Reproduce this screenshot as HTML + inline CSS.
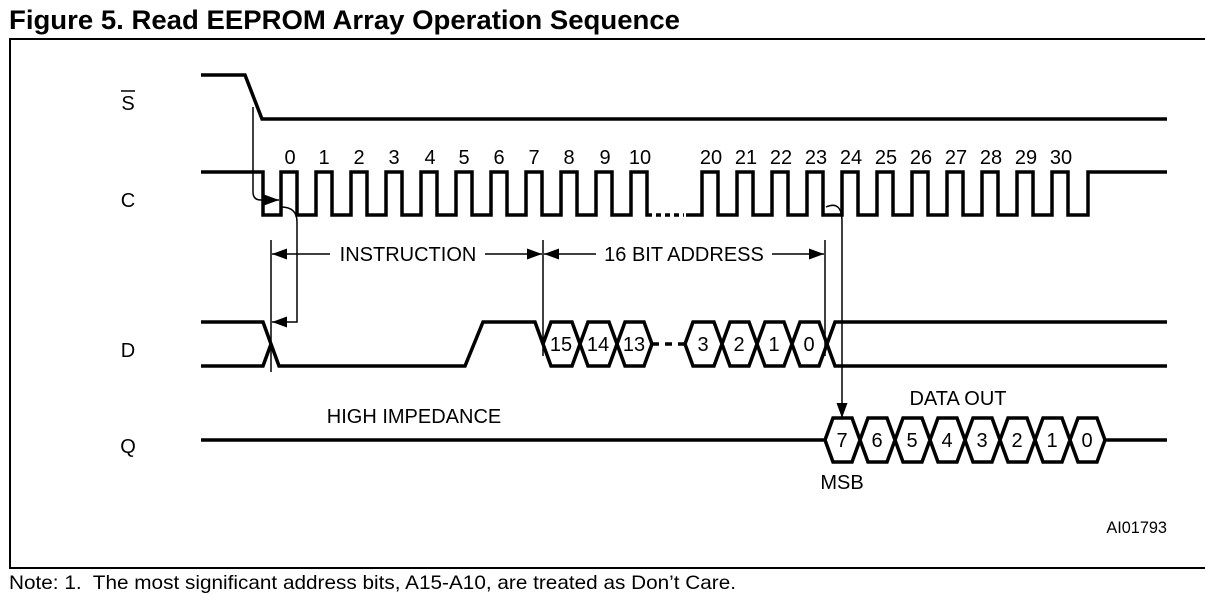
<!DOCTYPE html>
<html><head><meta charset="utf-8"><style>
html,body{margin:0;padding:0;background:#fff;}
svg{display:block;}
text{font-family:"Liberation Sans",sans-serif;fill:#000;white-space:pre;}
</style></head><body>
<svg width="1205" height="596" viewBox="0 0 1205 596" xmlns="http://www.w3.org/2000/svg">
<defs>
<marker id="ah" markerWidth="15" markerHeight="11" refX="15" refY="5.5" orient="auto" markerUnits="userSpaceOnUse"><path d="M0,0 L15,5.5 L0,11 z" fill="#000"/></marker>
</defs>
<text x="9" y="29" font-size="27" font-weight="bold" textLength="671" lengthAdjust="spacingAndGlyphs">Figure 5. Read EEPROM Array Operation Sequence</text>
<path d="M1205,39 H10 V568 H1205" fill="none" stroke="#000" stroke-width="2"/>
<text x="9" y="589" font-size="19.5" textLength="727" lengthAdjust="spacingAndGlyphs">Note: 1.  The most significant address bits, A15-A10, are treated as Don’t Care.</text>

<g font-size="20" text-anchor="middle">
<text x="128" y="110">S</text>
<line x1="121" y1="91" x2="135" y2="91" stroke="#000" stroke-width="1.5"/>
<text x="128" y="207">C</text>
<text x="128" y="357">D</text>
<text x="128" y="453">Q</text>
</g>

<g fill="none" stroke="#000" stroke-width="3.5" stroke-linejoin="miter">
<path d="M201,75 H245 L262,119 H1167"/>
<path d="M201,172 H263 V215 H281 V172 H297 V215 H316 V172 H332 V215 H351 V172 H367 V215 H386 V172 H402 V215 H421 V172 H437 V215 H456 V172 H472 V215 H491 V172 H507 V215 H526 V172 H542 V215 H561 V172 H577 V215 H596 V172 H612 V215 H631 V172 H647 V215 H652"/>
<path d="M656,215 H684" stroke-dasharray="5,4"/>
<path d="M686,215 H702 V172 H718 V215 H737 V172 H753 V215 H772 V172 H788 V215 H807 V172 H823 V215 H842 V172 H858 V215 H877 V172 H893 V215 H912 V172 H928 V215 H947 V172 H963 V215 H982 V172 H998 V215 H1017 V172 H1033 V215 H1052 V172 H1068 V215 H1088 V172 H1167"/>
<path d="M201,322 H263 L279,366 H465 L483,322 H535 L543,344"/>
<path d="M201,366 H263 L271,344"/>
<path d="M543,344 L551,322 H572 L580,344 L588,322 H609 L617,344 L625,322 H644 L652,344 L644,366 H625 L617,344 L609,366 H588 L580,344 L572,366 H551 L543,344"/>
<path d="M652,344 H685" stroke-dasharray="7,6"/>
<path d="M685,344 L693,322 H714 L722,344 L730,322 H749 L757,344 L765,322 H784 L792,344 L800,322 H819 L827,344 L835,322 H1167 M827,344 L835,366 H1167 M827,344 L819,366 H800 L792,344 L784,366 H765 L757,344 L749,366 H730 L722,344 L714,366 H693 L685,344"/>
<path d="M201,440 H825 L833,418 H852 L860,440 L868,418 H887 L895,440 L903,418 H922 L930,440 L938,418 H957 L965,440 L973,418 H992 L1000,440 L1008,418 H1027 L1035,440 L1043,418 H1062 L1070,440 L1078,418 H1097 L1105,440 H1167 M825,440 L833,462 H852 L860,440 L868,462 H887 L895,440 L903,462 H922 L930,440 L938,462 H957 L965,440 L973,462 H992 L1000,440 L1008,462 H1027 L1035,440 L1043,462 H1062 L1070,440 L1078,462 H1097 L1105,440"/>
</g>

<g fill="none" stroke="#000" stroke-width="1.5">
<path d="M253,107 V192 Q253,200 261,200 H279" marker-end="url(#ah)"/>
<path d="M281,207 Q297,207 297,222 V322 H272" marker-end="url(#ah)"/>
<line x1="271" y1="240" x2="271" y2="372"/>
<line x1="543" y1="240" x2="543" y2="356"/>
<line x1="825" y1="240" x2="825" y2="356"/>
<path d="M485,254 H542" marker-end="url(#ah)"/>
<path d="M330,254 H272" marker-end="url(#ah)"/>
<path d="M596,254 H544" marker-end="url(#ah)"/>
<path d="M772,254 H824" marker-end="url(#ah)"/>
<path d="M826,207 Q842,200 842,222 V418" marker-end="url(#ah)"/>
</g>

<g font-size="20" text-anchor="middle">
<text x="290" y="164">0</text><text x="324" y="164">1</text><text x="359" y="164">2</text><text x="394" y="164">3</text><text x="430" y="164">4</text><text x="464" y="164">5</text><text x="499" y="164">6</text><text x="534" y="164">7</text><text x="569" y="164">8</text><text x="605" y="164">9</text><text x="640" y="164">10</text>
<text x="711" y="164">20</text><text x="746" y="164">21</text><text x="781" y="164">22</text><text x="816" y="164">23</text><text x="851" y="164">24</text><text x="886" y="164">25</text><text x="921" y="164">26</text><text x="956" y="164">27</text><text x="991" y="164">28</text><text x="1026" y="164">29</text><text x="1061" y="164">30</text>
<text x="408" y="261">INSTRUCTION</text>
<text x="684" y="261">16 BIT ADDRESS</text>
<text x="561" y="351">15</text><text x="598" y="351">14</text><text x="634" y="351">13</text>
<text x="703" y="351">3</text><text x="739" y="351">2</text><text x="774" y="351">1</text><text x="809" y="351">0</text>
<text x="414" y="423">HIGH IMPEDANCE</text>
<text x="958" y="405">DATA OUT</text>
<text x="842" y="489">MSB</text>
<text x="842" y="447">7</text><text x="877" y="447">6</text><text x="912" y="447">5</text><text x="947" y="447">4</text><text x="982" y="447">3</text><text x="1017" y="447">2</text><text x="1052" y="447">1</text><text x="1087" y="447">0</text>
</g>
<text x="1167" y="533" font-size="16.3" text-anchor="end">AI01793</text>
</svg>
</body></html>
